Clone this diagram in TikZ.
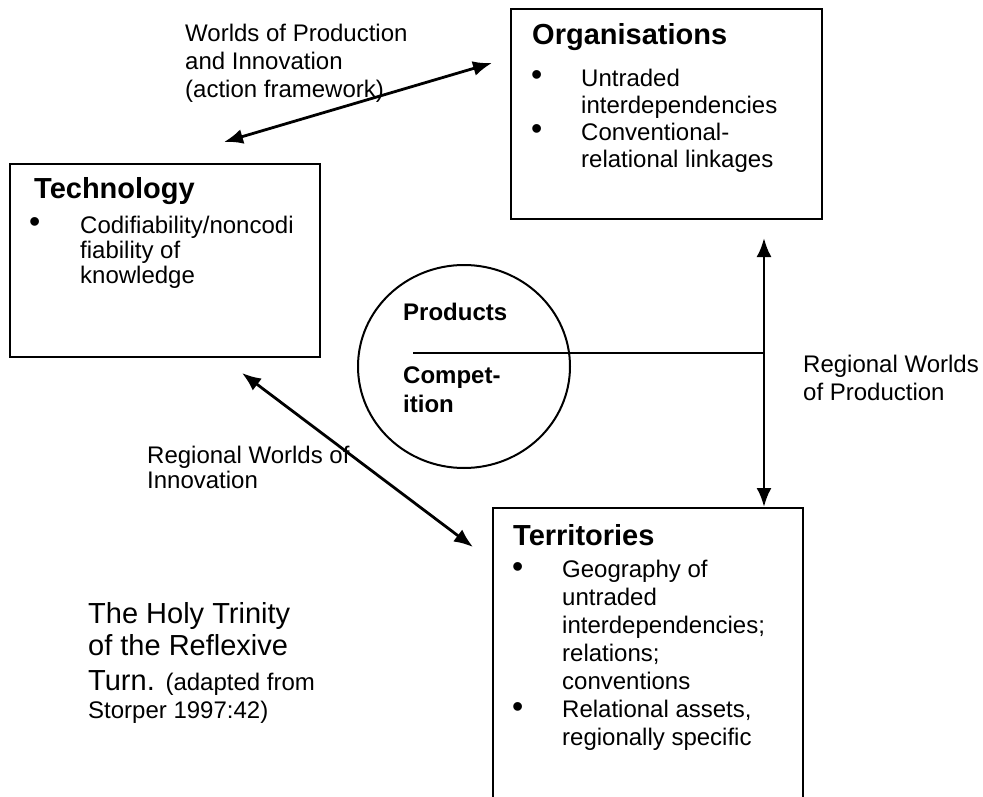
\documentclass[tikz,border=0pt]{standalone}
\usepackage{fontspec}
\setmainfont{Liberation Sans}
\usetikzlibrary{arrows.meta,shapes.geometric}
\tikzset{
  boxnode/.style={draw, line width=2.4pt, inner sep=0pt, anchor=north west},
  txt/.style={font=\fontsize{24}{#1}\selectfont, align=left, anchor=north west, inner sep=0pt},
  txt/.default=28,
  hd/.style={font=\bfseries\fontsize{29}{34}\selectfont, anchor=base west, inner sep=0pt},
  bul/.style={font=\fontsize{32}{34}\selectfont, anchor=base west, inner sep=0pt},
  sml/.style={font=\fontsize{24}{28}\selectfont, anchor=base west, inner sep=0pt},
  big/.style={font=\fontsize{29}{34}\selectfont, anchor=base west, inner sep=0pt},
  arr/.style={line width=2.8pt, {Latex[length=19pt,width=15pt]}-{Latex[length=19pt,width=15pt]}},
}
\newcommand{\fl}{\rule{0pt}{20pt}}
\begin{document}
\begin{tikzpicture}[x=1pt,y=-1pt]
\useasboundingbox (0,0) rectangle (983,797);
% boxes
\node[boxnode, minimum width=311pt, minimum height=210pt] (org) at (510,8) {};
\node[boxnode, minimum width=310pt, minimum height=193pt] (tech) at (9,163) {};
\node[boxnode, minimum width=310pt, minimum height=310pt] (terr) at (492,507) {};
\node[draw, line width=2pt, ellipse, minimum width=212pt, minimum height=203pt, inner sep=0pt] (circ) at (464,366.5) {};
% Organisations
\node[hd] (orgh) at (532,45) {Organisations};
\node[bul] (ob1) at (531,86) {•};
\node[bul] (ob2) at (531,140) {•};
\node[txt=27] (orgt) at (581,66) {\fl Untraded\\interdependencies\\Conventional-\\relational linkages};
% Technology
\node[hd] (techh) at (34,198) {Technology};
\node[bul] (tb1) at (29,233) {•};
\node[txt=25] (techt) at (80,213) {\fl Codifiability/noncodi\\fiability of\\knowledge};
% Territories
\node[hd] (terrh) at (513,545) {Territories};
\node[bul] (rb1) at (512,577) {•};
\node[bul] (rb2) at (512,717) {•};
\node[txt=28] (terrt) at (562,557) {\fl Geography of\\untraded\\interdependencies;\\relations;\\conventions\\Relational assets,\\regionally specific};
% circle texts
\node[font=\bfseries\fontsize{24}{28}\selectfont, anchor=base west, inner sep=0pt] (prod) at (403,320) {Products};
\node[font=\bfseries\fontsize{24}{29}\selectfont, align=left, anchor=north west, inner sep=0pt] (comp) at (403,363) {\fl Compet-\\ition};
% labels
\node[txt=28] (lab1) at (185,21) {\fl Worlds of Production\\and Innovation\\(action framework)};
\node[txt=28] (lab2) at (803,352) {\fl Regional Worlds\\of Production};
\node[txt=25] (lab3) at (147,443) {\fl Regional Worlds of\\Innovation};
% title
\node[big] (ti1) at (88,623) {The Holy Trinity};
\node[big] (ti2) at (88,655) {of the Reflexive};
\node[big] (ti3) at (88,690) {Turn. {\fontsize{24}{28}\selectfont(adapted from}};
\node[sml] (ti4) at (88,718) {Storper 1997:42)};
% connectors
\coordinate (a1s) at (224,142);
\coordinate (a1e) at (492,63);
\draw[arr] (a1s) -- (a1e);
\coordinate (a2s) at (242,373);
\coordinate (a2e) at (473,547);
\draw[arr] (a2s) -- (a2e);
\coordinate (vtop) at (764,238);
\draw[arr] (vtop) -- (vtop |- terr.north);
\coordinate (hl) at (413,353);
\draw[line width=2.2pt] (hl) -- (hl -| vtop);
\end{tikzpicture}
\end{document}
